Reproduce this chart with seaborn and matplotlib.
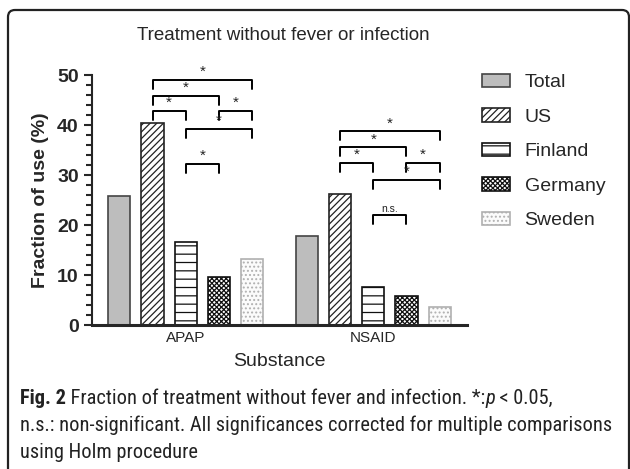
import matplotlib
matplotlib.use("Agg")
import matplotlib.pyplot as plt
from matplotlib import font_manager
from matplotlib.patches import FancyBboxPatch
from matplotlib.ticker import MultipleLocator
import pandas as pd
import seaborn as sns

substances = ["APAP", "NSAID"]
countries = ["Total", "US", "Finland", "Germany", "Sweden"]
apap = [25.8, 40.3, 16.6, 9.6, 13.2]
nsaid = [17.9, 26.2, 7.6, 5.8, 3.6]

# significance brackets: (substance, country a, country b, height, label)
brackets = [
    ("APAP", "US", "Sweden", 49.0, "*"),
    ("APAP", "US", "Germany", 45.8, "*"),
    ("APAP", "US", "Finland", 42.8, "*"),
    ("APAP", "Germany", "Sweden", 42.8, "*"),
    ("APAP", "Finland", "Sweden", 39.2, "*"),
    ("APAP", "Finland", "Germany", 32.2, "*"),
    ("NSAID", "US", "Sweden", 38.7, "*"),
    ("NSAID", "US", "Germany", 35.5, "*"),
    ("NSAID", "US", "Finland", 32.4, "*"),
    ("NSAID", "Germany", "Sweden", 32.4, "*"),
    ("NSAID", "Finland", "Sweden", 29.0, "*"),
    ("NSAID", "Finland", "Germany", 22.0, "n.s."),
]

faces = ["#bdbdbd", "white", "white", "white", "#fbfbfb"]
edges = ["#444444", "#222222", "#111111", "#111111", "#b0b0b0"]
hatches = [None, "/////", "--", "xxxxxxx", "...."]

# first caption line in pieces: (text, weight, style)
caption_first = [("Fig. 2", "bold", "normal"),
                 (" Fraction of treatment without fever and infection. *:", "normal", "normal"),
                 ("p", "normal", "italic"),
                 (" < 0.05,", "normal", "normal")]
caption_lines = ["n.s.: non-significant. All significances corrected for multiple comparisons",
                 "using Holm procedure"]

df = pd.DataFrame({
    "Substance": [s for s in substances for _ in countries],
    "Country": countries * 2,
    "Fraction": apap + nsaid,
})

installed = {f.name for f in font_manager.fontManager.ttflist}


def pick(*names):
    for n in names:
        if n in installed:
            return n
    return "DejaVu Sans"


main_font = pick("Liberation Sans", "Arimo", "Roboto")
cap_font = pick("Liberation Sans Narrow", "DejaVu Sans Condensed", "Roboto Condensed",
                "Open Sans", "Roboto")

sns.set_style("ticks")
plt.rcParams["font.family"] = [main_font, "DejaVu Sans"]
plt.rcParams["hatch.linewidth"] = 0.9

fig = plt.figure(figsize=(6.3, 4.69), dpi=100)
ax = fig.add_axes([92 / 630, 1 - 325 / 469, 375 / 630, 250 / 469])

sns.barplot(data=df, x="Substance", y="Fraction", hue="Country",
            hue_order=countries, order=substances, palette=faces,
            gap=0.33, width=0.885, ax=ax, legend=False)

for i, cont in enumerate(ax.containers):
    for p in cont:
        p.set_facecolor(faces[i])
        p.set_edgecolor(edges[i])
        p.set_linewidth(1.2)
        if hatches[i]:
            p.set_hatch(hatches[i])

# brackets
for sub, a, b, h, lab in brackets:
    si = substances.index(sub)
    pa = ax.containers[countries.index(a)][si]
    pb = ax.containers[countries.index(b)][si]
    xa = pa.get_x() + pa.get_width() / 2
    xb = pb.get_x() + pb.get_width() / 2
    ax.plot([xa, xa, xb, xb], [h - 1.8, h, h, h - 1.8], color="black",
            lw=1.4, clip_on=False)
    ax.text((xa + xb) / 2, h + 0.2, lab, ha="center", va="bottom",
            fontsize=11 if lab == "*" else 7.5, color="#222222")

ax.set_ylim(0, 50)
ax.set_xlim(-0.5, 1.5)
ax.yaxis.set_major_locator(MultipleLocator(10))
ax.yaxis.set_minor_locator(MultipleLocator(2))
ax.tick_params(axis="y", which="major", length=6, width=1.5, labelsize=14)
ax.tick_params(axis="y", which="minor", length=4, width=1.5)
ax.tick_params(axis="x", length=0, labelsize=11, pad=4)
for t in ax.get_yticklabels():
    t.set_fontweight("bold")
sns.despine(ax=ax)
ax.spines["left"].set_linewidth(1.5)
ax.spines["bottom"].set_linewidth(2.2)
ax.set_ylabel("Fraction of use (%)", fontsize=14, fontweight="bold", labelpad=6)
ax.set_xlabel("Substance", fontsize=14, labelpad=6)

handles = [c[0] for c in ax.containers]
fig.legend(handles, countries, loc="upper left",
           bbox_to_anchor=(474 / 630, 1 - 66 / 469), frameon=False,
           fontsize=14, handlelength=1.45, handleheight=0.7,
           handletextpad=0.75, labelspacing=0.87, borderaxespad=0)

fig.text(283 / 630, 1 - 35 / 469, "Treatment without fever or infection",
         ha="center", va="center", fontsize=13.5)

# caption: fit the longest line into the width of the reference
renderer = fig.canvas.get_renderer()
x0, target = 20, 592
probe = fig.text(0, 0, caption_lines[0], fontsize=14, family=cap_font)
w = probe.get_window_extent(renderer).width
probe.remove()
size = min(14 * target / w, 15)

ys = [399, 426, 453]
x = x0
for txt, weight, style in caption_first:
    t = fig.text(x / 630, 1 - ys[0] / 469, txt, ha="left", va="baseline",
                 fontsize=size, family=cap_font, fontweight=weight,
                 fontstyle=style, color="#222222")
    x += t.get_window_extent(renderer).width
base_off = 5
for t in fig.texts[-len(caption_first):]:
    t.set_y(1 - (ys[0] + base_off) / 469)
for y, line in zip(ys[1:], caption_lines):
    fig.text(x0 / 630, 1 - (y + base_off) / 469, line, ha="left", va="baseline",
             fontsize=size, family=cap_font, color="#222222")

box = FancyBboxPatch((8, -20), 621, 479, boxstyle="round,pad=0,rounding_size=7",
                     transform=None, fill=False, edgecolor="#222222", lw=1.6)
fig.patches.append(box)

fig.savefig("out.png", dpi=100)
